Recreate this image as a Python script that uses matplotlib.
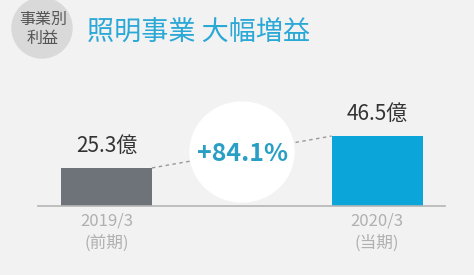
import matplotlib.pyplot as plt
from matplotlib.patches import Ellipse

plt.rcParams['font.family'] = ['Noto Sans CJK JP', 'DejaVu Sans']

# data
periods = ['2019/3\n(前期)', '2020/3\n(当期)']
profits = [25.3, 46.5]
value_labels = ['25.3億', '46.5億']
growth_label = '+84.1%'
title = '照明事業 大幅増益'
badge = '事業別\n利益'

W, H = 474, 275
fig = plt.figure(figsize=(W / 100, H / 100), dpi=100)
fig.patch.set_facecolor('#f2f2f2')

# badge circle + title (figure pixel coords)
fig.patches.append(Ellipse((42 / W, 1 - 28 / H), 60 / W, 60 / H,
                           transform=fig.transFigure, color='#d9d9d9', zorder=0))
fig.text(43 / W, 1 - 29 / H, badge, ha='center', va='center', fontsize=11.5,
         color='#555555', linespacing=1.1)
fig.text(87 / W, 1 - 32 / H, title, ha='left', va='center', fontsize=19.5,
         color='#2aa8d6')

# bars
ax = fig.add_axes([38 / W, 69 / H, 407 / W, 116 / H])
ax.set_facecolor('none')
bw = 0.336
x = [0, 1]
ax.bar(x, profits, width=bw, color=['#6e7279', '#0ba5d9'], zorder=2)
ax.set_xlim(-0.253, 1.251)
ax.set_ylim(0, 77.1)

# dashed connector from bar tops
ax.plot([x[0] + bw / 2, x[1] - bw / 2], profits, ls=(0, (2.5, 2.5)),
        color='#999999', lw=1.0, zorder=1)

for xi, v, lab in zip(x, profits, value_labels):
    ax.annotate(lab, (xi, v), xytext=(0, 8), textcoords='offset points',
                ha='center', va='bottom', fontsize=15, color='#333333')

for s in ['top', 'right', 'left']:
    ax.spines[s].set_visible(False)
ax.spines['bottom'].set_color('#b5b5b5')
ax.spines['bottom'].set_linewidth(1.2)
ax.set_yticks([])
ax.set_xticks(x)
ax.set_xticklabels(periods, fontsize=12, color='#b0b0b0', linespacing=1.35)
ax.tick_params(axis='x', length=0, pad=5)

# white circle with growth rate
fig.patches.append(Ellipse((242 / W, 1 - 152 / H), 104 / W, 100 / H,
                           transform=fig.transFigure, color='white', zorder=3))
fig.text(242 / W, 1 - 154 / H, growth_label, ha='center', va='center',
         fontsize=18, fontweight='bold', color='#2a9fc6', zorder=4)

fig.savefig('out.png', dpi=100, facecolor=fig.get_facecolor())
